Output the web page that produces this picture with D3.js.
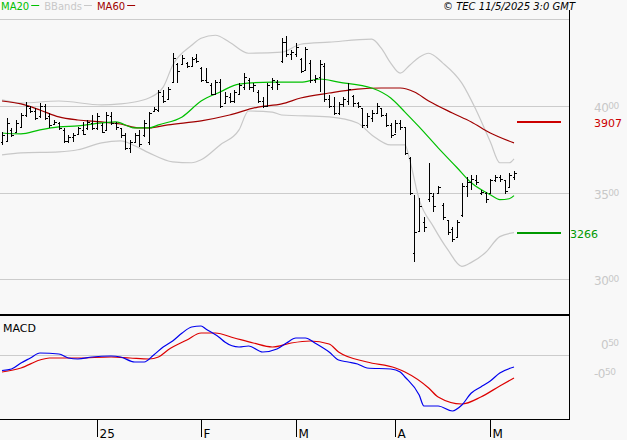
<!DOCTYPE html>
<html><head><meta charset="utf-8">
<script src="https://cdn.jsdelivr.net/npm/d3@7"></script>
<style>body{margin:0;background:#f8f8f8}svg{display:block;font-family:"DejaVu Sans",sans-serif}</style>
</head><body><svg id="c" width="627" height="440"></svg>
<script>
const high=[3850,3931,3873,3919,3960,4023,4000,3988,4017,4012,3960,3919,3908,3873,3833,3844,3879,3908,3919,3948,3960,3902,3965,3965,3908,3873,3844,3804,3844,3862,3919,3965,3994,4092,4092,4109,4305,4248,4294,4253,4282,4300,4225,4219,4132,4150,4156,4081,4075,4092,4132,4190,4161,4132,4092,4052,4132,4161,4150,4392,4403,4323,4363,4276,4340,4265,4179,4265,4248,4063,4052,4023,4052,4132,4063,4023,3988,3960,3977,4017,3988,3960,3902,3919,3919,3879,3706,3487,3470,3361,3672,3499,3539,3441,3343,3303,3343,3556,3591,3603,3603,3516,3505,3580,3603,3603,3574,3614,3626];
const low=[3775,3793,3821,3844,3873,3937,3960,3919,3931,3919,3873,3891,3862,3787,3787,3793,3833,3833,3862,3862,3862,3844,3862,3891,3862,3816,3747,3729,3787,3764,3821,3775,3965,3965,4017,4035,4132,4132,4236,4219,4225,4248,4138,4132,4063,4063,3988,4017,4017,4017,4063,4092,4092,4081,4017,3988,3994,4092,4092,4248,4282,4265,4282,4190,4207,4132,4132,4081,4023,3988,3948,3948,3994,4006,3994,3988,3873,3873,3908,3960,3937,3879,3816,3844,3862,3718,3487,3101,3274,3274,3447,3389,3499,3343,3257,3211,3240,3361,3476,3516,3545,3487,3441,3499,3562,3562,3493,3528,3574];
const open=[3790,3800,3860,3850,3880,3950,3990,3970,3940,4000,3940,3895,3900,3860,3800,3820,3840,3860,3870,3900,3870,3890,3860,3940,3900,3870,3830,3760,3790,3830,3830,3790,3970,3975,4060,4040,4140,4240,4240,4250,4230,4280,4220,4150,4120,4070,4140,4020,4050,4030,4070,4110,4150,4110,4080,4030,4000,4110,4140,4260,4370,4300,4300,4270,4210,4250,4150,4170,4230,4040,4000,3960,4010,4030,4060,4020,3990,3890,3930,3960,3990,3950,3890,3840,3900,3880,3700,3150,3280,3330,3460,3480,3500,3430,3340,3290,3240,3370,3540,3560,3570,3500,3500,3500,3570,3590,3570,3530,3590];
const close=[3830,3900,3830,3900,3950,4000,3970,3930,4000,3930,3890,3910,3870,3800,3820,3830,3870,3840,3910,3870,3940,3850,3950,3900,3880,3830,3760,3790,3830,3780,3900,3960,3985,4080,4030,4100,4280,4200,4280,4230,4270,4260,4150,4140,4070,4140,4000,4060,4030,4080,4120,4170,4110,4120,4030,4000,4120,4150,4130,4370,4300,4310,4340,4200,4330,4150,4160,4240,4040,4000,3960,4010,4040,4100,4020,4000,3890,3940,3960,4000,3950,3890,3830,3900,3880,3730,3500,3270,3420,3300,3500,3420,3530,3360,3270,3230,3330,3540,3560,3580,3560,3505,3460,3570,3590,3580,3510,3600,3610];
// [bar index, value]
const ma20=[[0,3844],[4,3839],[8,3862],[12,3879],[16,3885],[21,3902],[24,3908],[28,3873],[31,3873],[33,3891],[38,3937],[42,4029],[46,4081],[50,4127],[57,4138],[63,4138],[67,4156],[71,4138],[78,4104],[82,4046],[85,3965],[88,3879],[92,3758],[96,3643],[99,3556],[103,3487],[105,3459],[107,3464],[108,3482]];
const ma60=[[0,4029],[4,4012],[8,3977],[12,3937],[16,3919],[21,3908],[25,3896],[29,3873],[31,3873],[35,3891],[42,3914],[48,3948],[54,3994],[59,4012],[63,4046],[69,4075],[75,4098],[80,4104],[84,4104],[87,4081],[90,4029],[95,3960],[99,3908],[103,3844],[108,3787]];
const bbUpper=[[0,4035],[4,4017],[12,4029],[21,4006],[25,4012],[29,4029],[31,4046],[34,4109],[36,4236],[40,4351],[42,4392],[45,4409],[48,4369],[52,4305],[59,4311],[63,4357],[69,4369],[78,4386],[80,4334],[82,4248],[84,4190],[86,4236],[88,4282],[90,4305],[93,4248],[97,4132],[100,3977],[103,3793],[105,3672],[107,3672],[108,3695]];
const bbLower=[[0,3718],[4,3729],[12,3735],[16,3747],[21,3787],[25,3798],[28,3770],[31,3729],[36,3677],[40,3672],[42,3689],[46,3775],[50,3862],[52,3971],[57,3965],[59,3948],[69,3937],[75,3902],[78,3833],[82,3775],[85,3775],[86,3689],[88,3459],[91,3303],[94,3171],[97,3073],[99,3096],[102,3153],[105,3245],[108,3268]];
const macd=[[0,-31],[2,-28],[4,-16],[6,-6],[8,4],[12,2],[14,-6],[16,-8],[19,-4],[23,-2],[25,-4],[28,-14],[30,-14],[32,0],[34,16],[36,28],[38,44],[40,56],[42,58],[43,52],[46,34],[47,26],[50,16],[52,18],[55,6],[58,12],[60,24],[62,34],[64,34],[66,24],[69,6],[71,-10],[73,-14],[75,-18],[77,-26],[82,-28],[84,-34],[85,-44],[88,-80],[89,-102],[92,-102],[95,-112],[97,-100],[99,-76],[101,-64],[103,-52],[105,-36],[108,-24]];
const signal=[[0,-34],[4,-26],[8,-10],[10,-6],[16,-6],[23,-4],[27,-6],[31,-8],[33,-4],[35,10],[39,30],[42,44],[45,44],[49,34],[53,24],[57,16],[61,24],[65,28],[69,22],[71,6],[77,-14],[83,-26],[85,-34],[90,-66],[92,-84],[97,-98],[101,-84],[105,-62],[108,-46]];
const monthTicks=[[20,"25"],[42,"F"],[62,"M"],[83,"A"],[103,"M"]];
const priceTicks=[4000,3500,3000];
const levels=[[3907,"3907","#cc0000"],[3266,"3266","#009900"]];

const svg=d3.select("#c");
const x=d3.scaleLinear().domain([0,108]).range([2,514]);
const y=d3.scaleLinear().domain([3000,4000]).range([279,106]);
const ym=d3.scaleLinear().domain([0,-100]).range([355,405]);
svg.append("rect").attr("width",627).attr("height",440).attr("fill","#f8f8f8");
priceTicks.forEach(p=>{
  svg.append("line").attr("x1",0).attr("x2",569).attr("y1",Math.round(y(p))+.5).attr("y2",Math.round(y(p))+.5).attr("stroke","#cccccc");
  const s=String(p);
  const t=svg.append("text").attr("x",594).attr("y",y(p)+6).attr("fill","#c8c8c8").attr("font-size",12).attr("letter-spacing",-0.5);
  t.append("tspan").text(s.slice(0,2)); t.append("tspan").attr("font-size",9).attr("dy",-3).text(s.slice(2));
});
svg.append("line").attr("x1",0).attr("x2",569).attr("y1",ym(0)+.5).attr("y2",ym(0)+.5).attr("stroke","#cccccc");
[["0","50",601,349],["-0","50",594,378]].forEach(([a,b,tx,ty])=>{
  const t=svg.append("text").attr("x",tx).attr("y",ty).attr("fill","#c8c8c8").attr("font-size",12).attr("letter-spacing",-0.5);
  t.append("tspan").text(a); t.append("tspan").attr("font-size",9).attr("dy",-3).text(b);
});
const line=d3.line().x(d=>x(d[0])).y(d=>y(d[1])).curve(d3.curveMonotoneX);
const lineM=d3.line().x(d=>x(d[0])).y(d=>ym(d[1])).curve(d3.curveMonotoneX);
[[bbUpper,"#c8c8c8"],[bbLower,"#c8c8c8"],[ma60,"#a00000"],[ma20,"#00c000"]].forEach(([d,c])=>
  svg.append("path").attr("d",line(d)).attr("fill","none").attr("stroke",c).attr("stroke-width",1.2));
const g=svg.append("g").attr("stroke","#000").attr("shape-rendering","crispEdges");
high.forEach((h,i)=>{
  const xi=Math.round(x(i))+.5;
  g.append("line").attr("x1",xi).attr("x2",xi).attr("y1",y(h)).attr("y2",y(low[i])).attr("stroke-width",1.3);
  g.append("line").attr("x1",xi-2).attr("x2",xi).attr("y1",Math.round(y(open[i]))+.5).attr("y2",Math.round(y(open[i]))+.5);
  g.append("line").attr("x1",xi).attr("x2",xi+2).attr("y1",Math.round(y(close[i]))+.5).attr("y2",Math.round(y(close[i]))+.5);
});
levels.forEach(([v,l,c],k)=>{
  svg.append("line").attr("x1",517).attr("x2",561).attr("y1",y(v)).attr("y2",y(v)).attr("stroke",c).attr("stroke-width",2);
  svg.append("text").attr("x",k==0?594:570).attr("y",y(v)+5).attr("fill",c).attr("font-size",11).text(l);
});
svg.append("path").attr("d",lineM(signal)).attr("fill","none").attr("stroke","#dd0000").attr("stroke-width",1.2);
svg.append("path").attr("d",lineM(macd)).attr("fill","none").attr("stroke","#0000ee").attr("stroke-width",1.2);
svg.append("line").attr("x1",0).attr("x2",569).attr("y1",19.5).attr("y2",19.5).attr("stroke","#cccccc");
svg.append("line").attr("x1",569.5).attr("x2",569.5).attr("y1",10).attr("y2",420).attr("stroke","#000");
svg.append("line").attr("x1",0).attr("x2",570).attr("y1",315).attr("y2",315).attr("stroke","#000").attr("stroke-width",2);
svg.append("line").attr("x1",0).attr("x2",570).attr("y1",419.5).attr("y2",419.5).attr("stroke","#000");
svg.append("text").attr("x",3).attr("y",332).attr("font-size",11).attr("fill","#000").text("MACD");
monthTicks.forEach(([i,l])=>{
  const xi=Math.round(x(i))+.5;
  svg.append("line").attr("x1",xi).attr("x2",xi).attr("y1",419).attr("y2",437).attr("stroke","#000");
  svg.append("text").attr("x",xi+2).attr("y",438).attr("font-size",12).attr("fill","#000").text(l);
});
let lx=1;
[["MA20","#00c000"],["BBands","#c8c8c8"],["MA60","#a00000"]].forEach(([t,c])=>{
  const tt=svg.append("text").attr("x",lx).attr("y",10).attr("font-size",10).attr("fill",c).text(t);
  const w=tt.node().getComputedTextLength();
  svg.append("line").attr("x1",lx+w+2).attr("x2",lx+w+10).attr("y1",5.5).attr("y2",5.5).attr("stroke",c);
  lx+=w+15;
});
svg.append("text").attr("x",575).attr("y",10).attr("text-anchor","end").attr("font-size",10).attr("font-style","italic").attr("fill","#000").text("© TEC 11/5/2025 3:0 GMT");
</script></body></html>
